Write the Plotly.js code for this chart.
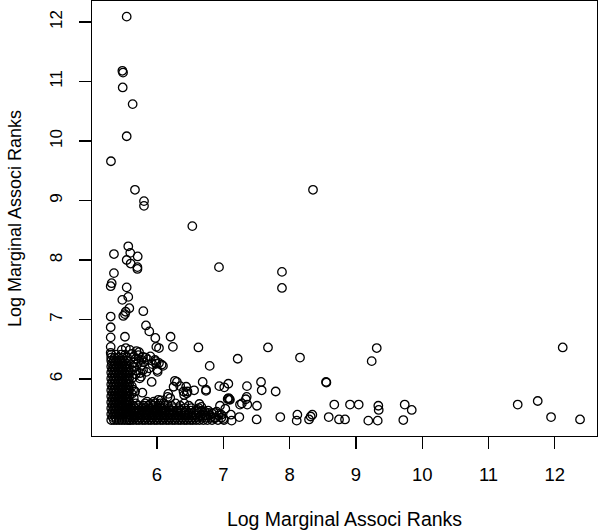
<!DOCTYPE html>
<html>
<head>
<meta charset="utf-8">
<script src="https://cdn.plot.ly/plotly-3.0.1.min.js"></script>
<style>html,body{margin:0;padding:0;background:#fff;}#chart{width:600px;height:532px;}</style>
</head>
<body>
<div id="chart"></div>
<script>
// Sparse points (log marginal ranks)
const sparseX = [5.543,5.478,5.488,5.483,5.633,5.543,5.306,5.668,5.804,5.804,6.533,8.353,5.567,5.351,5.597,5.709,5.543,5.603,5.705,5.705,5.351,6.935,7.885,7.885,5.317,5.302,5.543,5.567,5.477,5.583,5.528,5.517,5.492,5.794,5.302,5.302,5.834,5.884,5.302,5.517,5.975,6.205,5.302,5.302,5.47,5.53,5.59,5.69,5.99,6.03,6.24,6.625,7.674,9.314,12.119,7.217,8.157,9.238,6.795,6.689,6.739,6.940,7.015,7.076,7.357,7.569,7.579,7.790,8.549,8.555,7.091,7.066,7.353,7.252,7.362,7.508,8.674,8.911,9.042,9.338,9.344,9.736,9.842,11.440,11.742,11.943,12.380,7.503,7.860,8.117,8.107,8.293,8.318,8.343,8.590,8.745,8.836,9.187,9.329,9.715,7.242,7.126,7.115,7.28,7.34,7.10,7.08];
const sparseY = [12.09,11.18,11.15,10.90,10.62,10.08,9.66,9.18,8.99,8.91,8.57,9.18,8.23,8.10,8.12,8.06,8.00,7.94,7.88,7.85,7.78,7.88,7.80,7.53,7.61,7.56,7.54,7.38,7.33,7.19,7.13,7.09,7.06,7.14,7.05,6.87,6.90,6.80,6.70,6.71,6.69,6.71,6.54,6.44,6.49,6.52,6.49,6.47,6.54,6.52,6.54,6.53,6.53,6.52,6.53,6.34,6.36,6.30,6.22,5.95,5.80,5.88,5.86,5.92,5.88,5.95,5.81,5.79,5.95,5.94,5.66,5.665,5.70,5.57,5.57,5.55,5.57,5.57,5.57,5.55,5.48,5.57,5.48,5.57,5.63,5.36,5.32,5.32,5.36,5.40,5.30,5.32,5.37,5.40,5.36,5.32,5.32,5.30,5.30,5.31,5.36,5.30,5.40,5.59,5.66,5.65,5.68];

// Scattered points in the middle zone
const midX = [5.79,5.83,5.77,5.97,5.99,6.09,6.03,6.07,5.98,6.01,5.92,5.79,5.75,5.74,5.76,5.67,5.78,6.005,6.30,6.35,6.27,6.25,6.17,6.20,6.16,6.02,6.05,6.06,6.40,6.45,6.44,6.46,6.56,6.41,6.74,6.67,6.72,6.61,6.64,6.90,6.87,6.75,6.83,6.95,7.03,6.97,7.00,5.62,5.65,5.68,5.72,5.64,5.70,5.66,5.62,5.68,5.63,5.62,5.64,5.62,5.65,5.85,5.90,5.95,5.72,5.76,5.80,5.86,5.90,5.93,5.88,5.84,5.69,5.73];
const midY = [6.37,6.36,6.32,6.32,6.26,6.22,6.27,6.24,6.30,6.12,5.95,6.15,6.10,6.01,6.04,5.79,5.77,6.15,5.95,5.88,5.97,5.87,5.75,5.68,5.70,5.65,5.59,5.64,5.79,5.76,5.87,5.79,5.81,5.73,5.82,5.53,5.45,5.48,5.58,5.45,5.34,5.39,5.42,5.55,5.50,5.40,5.33,6.42,6.38,6.34,6.40,6.28,6.25,6.20,6.15,6.08,6.02,5.88,5.82,5.75,5.68,5.62,5.58,5.62,6.30,6.22,6.28,6.33,6.38,6.25,6.18,6.12,6.14,6.45];

// Dense horizontal band along the bottom (rows by y)
const bandRowY = [5.31,5.35,5.39,5.43,5.47,5.51,5.55,5.59];
const bandRowX = [
  [5.60,5.64,5.69,5.73,5.78,5.82,5.87,5.91,5.96,6.00,6.05,6.09,6.14,6.18,6.23,6.27,6.32,6.36,6.41,6.45,6.50,6.54,6.59,6.64,6.70,6.76,6.83,6.92,7.01],
  [5.62,5.66,5.71,5.75,5.80,5.84,5.89,5.93,5.98,6.02,6.07,6.11,6.16,6.20,6.25,6.29,6.34,6.38,6.43,6.48,6.52,6.57,6.62,6.68,6.74,6.81,6.88,6.97],
  [5.60,5.65,5.69,5.74,5.78,5.83,5.87,5.92,5.96,6.01,6.05,6.10,6.14,6.19,6.23,6.28,6.33,6.37,6.42,6.47,6.53,6.58,6.66,6.72,6.80,6.93],
  [5.62,5.67,5.71,5.76,5.80,5.85,5.89,5.94,5.98,6.03,6.07,6.12,6.17,6.21,6.26,6.31,6.36,6.42,6.48,6.55,6.63,6.70,6.78,6.86],
  [5.60,5.65,5.70,5.74,5.79,5.84,5.88,5.93,5.98,6.02,6.08,6.13,6.19,6.24,6.30,6.36,6.44,6.51,6.59,6.68,6.77],
  [5.62,5.67,5.72,5.78,5.83,5.89,5.94,6.00,6.06,6.12,6.18,6.25,6.33,6.42,6.52,6.63],
  [5.64,5.72,5.80,5.87,5.95,6.04,6.12,6.22,6.35,6.48],
  [5.68,5.82,5.97,6.10,6.28,6.41]
];

// Dense vertical band at the left (rows by y)
const colRowY = [5.31,5.36,5.41,5.46,5.51,5.56,5.61,5.66,5.71,5.76,5.81,5.86,5.91,5.96,6.01,6.06,6.11,6.16,6.21,6.26,6.31,6.36,6.41];
const colRowX = [
  [5.31,5.35,5.39,5.43,5.47,5.51,5.55,5.58],
  [5.33,5.37,5.41,5.45,5.49,5.53,5.57],
  [5.31,5.35,5.39,5.43,5.47,5.51,5.55,5.58],
  [5.33,5.37,5.41,5.45,5.49,5.53,5.57],
  [5.31,5.35,5.39,5.43,5.47,5.51,5.55,5.58],
  [5.33,5.37,5.41,5.45,5.49,5.53,5.57],
  [5.31,5.35,5.39,5.43,5.47,5.51,5.55,5.58],
  [5.33,5.37,5.41,5.45,5.49,5.53,5.57],
  [5.31,5.35,5.39,5.43,5.47,5.51,5.55,5.58],
  [5.33,5.37,5.41,5.45,5.49,5.53,5.57],
  [5.31,5.35,5.39,5.43,5.47,5.51,5.55,5.58],
  [5.33,5.37,5.41,5.45,5.49,5.53,5.57],
  [5.31,5.35,5.39,5.43,5.47,5.51,5.55,5.58],
  [5.33,5.37,5.41,5.45,5.49,5.53,5.57],
  [5.31,5.35,5.39,5.43,5.47,5.51,5.55,5.58],
  [5.33,5.37,5.41,5.45,5.49,5.53,5.57],
  [5.31,5.35,5.39,5.43,5.47,5.51,5.55,5.59],
  [5.33,5.37,5.41,5.45,5.49,5.53,5.57],
  [5.31,5.35,5.39,5.43,5.47,5.51,5.55],
  [5.32,5.36,5.41,5.45,5.49,5.54],
  [5.31,5.35,5.40,5.44,5.50,5.56],
  [5.31,5.36,5.42,5.48,5.55],
  [5.31,5.38,5.46,5.52]
];

const xTicks = [6,7,8,9,10,11,12];
const yTicks = [6,7,8,9,10,11,12];

const allX = [], allY = [];
function addRows(ys, xs){ ys.forEach((y,i)=>xs[i].forEach(x=>{allX.push(x);allY.push(y);})); }
addRows(colRowY, colRowX);
addRows(bandRowY, bandRowX);
midX.forEach((x,i)=>{allX.push(x);allY.push(midY[i]);});
sparseX.forEach((x,i)=>{allX.push(x);allY.push(sparseY[i]);});

const font = 'Liberation Sans, Arial, Helvetica, sans-serif';
const trace = {
  x: allX, y: allY, type: 'scatter', mode: 'markers',
  marker: {symbol: 'circle-open', size: 8.5, color: '#000', line: {width: 1.3, color: '#000'}},
  hoverinfo: 'x+y'
};
const axisCommon = {
  showgrid: false, zeroline: false, showline: true, mirror: true,
  linecolor: '#000', linewidth: 1.3, ticks: 'outside', ticklen: 12, tickwidth: 1.3, tickcolor: '#000'
};
const layout = {
  width: 600, height: 532,
  margin: {l: 92, r: 3, t: 1, b: 96},
  paper_bgcolor: '#fff', plot_bgcolor: '#fff',
  showlegend: false,
  xaxis: Object.assign({}, axisCommon, {
    range: [5.020, 12.636], tickvals: xTicks, ticktext: xTicks.map(String),
    tickfont: {family: font, size: 18.5, color: '#000'}, ticklabelstandoff: 9,
    title: {text: 'Log Marginal Associ Ranks', font: {family: font, size: 19.5, color: '#000'}, standoff: 28}
  }),
  yaxis: Object.assign({}, axisCommon, {
    range: [5.042, 12.353], tickvals: yTicks, ticktext: yTicks.map(String), tickangle: -90,
    tickfont: {family: font, size: 17, color: '#000'}, ticklabelstandoff: 10,
    title: {text: 'Log Marginal Associ Ranks', font: {family: font, size: 18, color: '#000'}, standoff: 20}
  })
};
Plotly.newPlot('chart', [trace], layout, {displayModeBar: false, staticPlot: true});
</script>
</body>
</html>
